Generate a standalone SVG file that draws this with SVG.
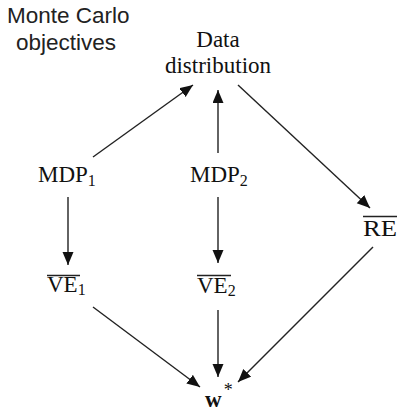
<svg xmlns="http://www.w3.org/2000/svg" width="403" height="415" viewBox="0 0 403 415">
<style>
.s{font-family:"Liberation Serif","DejaVu Serif",serif;font-size:23px;fill:#111}
.sub{font-size:16px}
.mc{font-family:"Liberation Sans",Arial,sans-serif;font-size:22.5px;fill:#222}
.c line{stroke:#222;stroke-width:1.4;marker-end:url(#ah)}
.ov{stroke:#222;stroke-width:1.3}
</style>
<defs>
<marker id="ah" markerUnits="userSpaceOnUse" markerWidth="14" markerHeight="12" refX="13" refY="5.5" orient="auto">
<path d="M0,0 L13,5.5 L0,11 z" fill="#111"/>
</marker>
</defs>
<rect width="403" height="415" fill="#fff"/>
<g id="title">
<text class="mc" x="7" y="23">Monte Carlo</text>
<text class="mc" x="16" y="50">objectives</text>
</g>
<g class="c" id="connectors">
<line x1="93" y1="157" x2="193" y2="85"/>
<line x1="218" y1="153" x2="218" y2="90"/>
<line x1="238" y1="85" x2="370" y2="208"/>
<line x1="68" y1="197" x2="68" y2="265"/>
<line x1="218" y1="197" x2="218" y2="263"/>
<line x1="93" y1="307" x2="200" y2="387"/>
<line x1="218" y1="310" x2="218" y2="377"/>
<line x1="373" y1="247" x2="238" y2="382"/>
</g>
<g id="data">
<text class="s" x="218" y="47" text-anchor="middle">Data</text>
<text class="s" x="218" y="73" text-anchor="middle">distribution</text>
</g>
<g id="mdp1">
<text class="s" x="38" y="182">MDP<tspan class="sub" dy="4">1</tspan></text>
</g>
<g id="mdp2">
<text class="s" x="190" y="182">MDP<tspan class="sub" dy="4">2</tspan></text>
</g>
<g id="re">
<line class="ov" x1="363" y1="216.5" x2="397" y2="216.5"/>
<text class="s" x="363" y="236" textLength="34" lengthAdjust="spacingAndGlyphs">RE</text>
</g>
<g id="ve1">
<line class="ov" x1="47" y1="275.5" x2="80" y2="275.5"/>
<text class="s" x="47" y="292">VE<tspan class="sub" dy="3">1</tspan></text>
</g>
<g id="ve2">
<line class="ov" x1="197" y1="275.5" x2="231" y2="275.5"/>
<text class="s" x="197" y="293">VE<tspan class="sub" dy="3">2</tspan></text>
</g>
<g id="wstar">
<text class="s" x="205" y="407" font-weight="bold">w<tspan dx="2" dy="-11" font-size="18" font-weight="normal">*</tspan></text>
</g>
</svg>
